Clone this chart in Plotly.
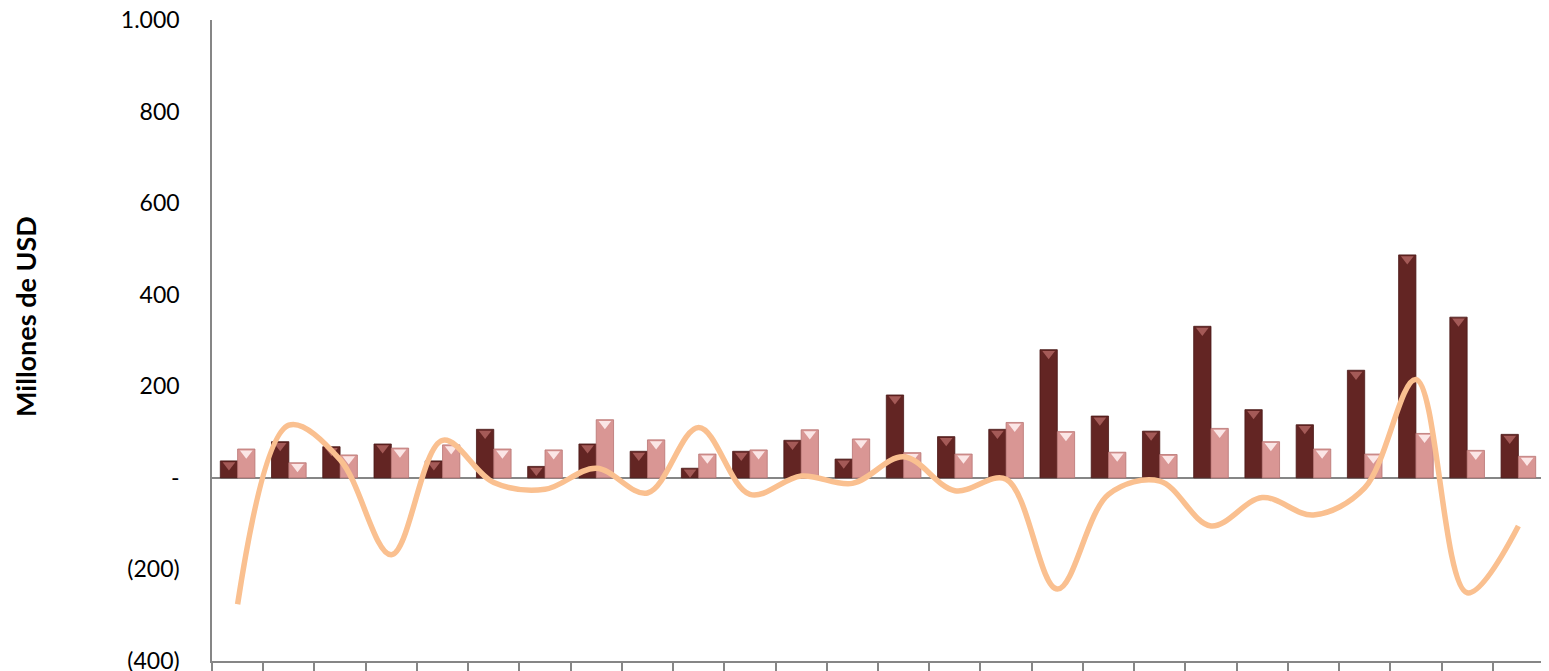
import plotly.graph_objects as go

categories = list(range(26))
serie_a = [37, 79, 68, 74, 37, 106, 25, 74, 58, 21, 58, 82, 41, 181, 90, 106, 280,
           135, 102, 331, 149, 116, 235, 487, 351, 95]
serie_b = [63, 33, 50, 65, 72, 63, 61, 127, 83, 52, 61, 105, 85, 55, 52, 121, 101,
           56, 51, 108, 79, 63, 52, 97, 60, 47]
linea = [-276, 115, 40, -168, 82, -10, -25, 21, -33, 110, -36, 4, -12, 46, -28, -3,
         -243, -36, -7, -105, -43, -81, -22, 215, -251, -105]
y_ticks = [-400, -200, 0, 200, 400, 600, 800, 1000]
y_labels = ["(400)", "(200)", "-", "200", "400", "600", "800", "1.000"]

font_family = "Lato, 'Open Sans', sans-serif"
dark = "#632523"
pink = "#D99694"
half = 0.169  # half of a bar's width in category units

# the page body has an 8px default margin; size the figure to fit the window
W, H = 1541, 663
ML, MR, MT, MB = 204, 5, 12, 10

fig = go.Figure()
fig.add_trace(go.Bar(x=categories, y=serie_a,
                     marker=dict(color=dark, line=dict(color="#4a1816", width=0.8))))
fig.add_trace(go.Bar(x=categories, y=serie_b,
                     marker=dict(color=pink, line=dict(color="#b87472", width=0.8))))
# bevel highlights on bar tops
fig.add_trace(go.Scatter(x=[c - half for c in categories], y=[v - 9 for v in serie_a],
                         mode="markers", hoverinfo="skip",
                         marker=dict(symbol="triangle-down", size=11, color="#a45a57",
                                     line=dict(width=0))))
fig.add_trace(go.Scatter(x=[c + half for c in categories], y=[v - 9 for v in serie_b],
                         mode="markers", hoverinfo="skip",
                         marker=dict(symbol="triangle-down", size=11, color="#fbe6e6",
                                     line=dict(width=0))))
fig.add_trace(go.Scatter(x=categories, y=linea, mode="lines",
                         line=dict(color="#FAC090", width=5.5, shape="spline", smoothing=1.0)))

plot_h = H - MT - MB
fig.update_layout(
    width=W, height=H,
    margin=dict(l=ML, r=MR, t=MT, b=MB, autoexpand=False),
    paper_bgcolor="white", plot_bgcolor="white",
    barmode="group", bargap=0.324, bargroupgap=0,
    showlegend=False,
    font=dict(family=font_family, size=23, color="black"),
    xaxis=dict(
        range=[-0.5, 25.5], automargin=False,
        tickvals=[i - 0.5 for i in range(27)],
        showticklabels=False,
        ticks="outside", ticklen=10, tickcolor="#868686", tickwidth=1.5,
        showline=True, linecolor="#868686", linewidth=1.5,
        showgrid=False, zeroline=False,
    ),
    yaxis=dict(
        range=[-400, 1000], automargin=False,
        tickvals=y_ticks, ticktext=y_labels,
        showline=True, linecolor="#868686", linewidth=1.5,
        showgrid=False,
        zeroline=True, zerolinecolor="#868686", zerolinewidth=1.5,
        ticks="", ticklabelstandoff=26, ticklabeloverflow="allow",
        tickfont=dict(size=23, family=font_family),
    ),
    annotations=[dict(
        text="<b>Millones de USD</b>", textangle=-90,
        xref="paper", yref="paper", x=(17 - ML) / 1332, y=(H - MB - 309) / plot_h,
        xanchor="center", yanchor="middle", showarrow=False,
        font=dict(size=27, family=font_family, color="black"),
    )],
)

fig.write_html("out.html")
